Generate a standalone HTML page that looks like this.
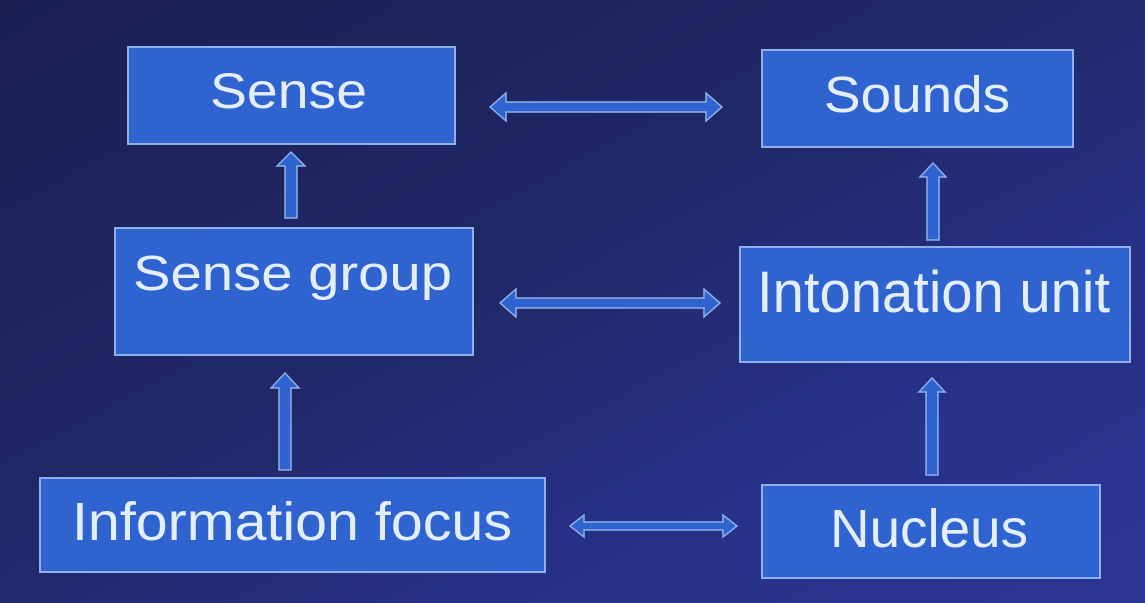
<!DOCTYPE html>
<html><head><meta charset="utf-8"><style>
html,body{margin:0;padding:0;width:1145px;height:603px;overflow:hidden;background:#1f2462}
svg{display:block}
text{font-family:"Liberation Sans",sans-serif;fill:#e4eef8}
</style></head><body>
<svg width="1145" height="603" viewBox="0 0 1145 603">
<defs>
<linearGradient id="bg" x1="0" y1="0" x2="1" y2="1">
<stop offset="0" stop-color="#1b1f52"/>
<stop offset="0.45" stop-color="#212868"/>
<stop offset="0.7" stop-color="#263086"/>
<stop offset="1" stop-color="#2c3794"/>
</linearGradient>
</defs>
<rect width="1145" height="603" fill="url(#bg)"/>
<g fill="#2f63d0" stroke="#8fb0e8" stroke-width="2">
<rect x="128" y="47" width="327" height="97"/>
<rect x="762" y="50" width="311" height="97"/>
<rect x="115" y="228" width="358" height="127"/>
<rect x="740" y="247" width="390" height="115"/>
<rect x="40" y="478" width="505" height="94"/>
<rect x="762" y="485" width="338" height="93"/>
</g>
<g fill="#2f63d0" stroke="#8fb0e8" stroke-width="1.5">
<polygon points="490,107 506,93 506,102 706,102 706,93 722,107 706,121 706,112 506,112 506,121"/>
<polygon points="500,303 516,289 516,298 704,298 704,289 720,303 704,317 704,308 516,308 516,317"/>
<polygon points="570,526 584,515 584,522 723,522 723,515 737,526 723,537 723,530 584,530 584,537"/>
<polygon points="291,152 305,166 297,166 297,218 285,218 285,166 277,166"/>
<polygon points="285,373 299,388 291,388 291,470 279,470 279,388 271,388"/>
<polygon points="933,163 946,177 939,177 939,240 927,240 927,177 920,177"/>
<polygon points="932,378 945,392 938,392 938,475 926,475 926,392 919,392"/>
</g>
<text x="210" y="108" font-size="50" textLength="157" lengthAdjust="spacingAndGlyphs">Sense</text>
<text x="824" y="112" font-size="51" textLength="186" lengthAdjust="spacingAndGlyphs">Sounds</text>
<text x="133" y="290" font-size="49" textLength="319" lengthAdjust="spacingAndGlyphs">Sense group</text>
<text x="757" y="312" font-size="58" textLength="353" lengthAdjust="spacingAndGlyphs">Intonation unit</text>
<text x="72" y="540" font-size="54" textLength="440" lengthAdjust="spacingAndGlyphs">Information focus</text>
<text x="830" y="547" font-size="54" textLength="198" lengthAdjust="spacingAndGlyphs">Nucleus</text>
</svg>
</body></html>
